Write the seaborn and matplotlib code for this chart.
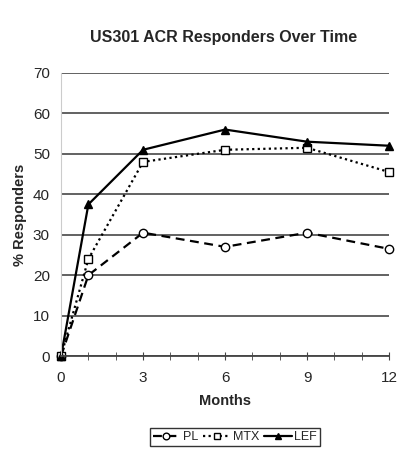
import matplotlib
matplotlib.use("Agg")
import matplotlib.pyplot as plt
import pandas as pd
import seaborn as sns

# Dados
months = [0, 1, 3, 6, 9, 12]
pl = [0, 20, 30.5, 27, 30.5, 26.5]
mtx = [0, 24, 48, 51, 51.5, 45.5]
lef = [0, 37.5, 51, 56, 53, 52]
series_names = ["PL", "MTX", "LEF"]
x_ticks = [0, 3, 6, 9, 12]
y_ticks = [0, 10, 20, 30, 40, 50, 60, 70]

df = pd.DataFrame({
    "Months": months * 3,
    "value": pl + mtx + lef,
    "group": [n for n in series_names for _ in months],
})

sns.set_style("white")
plt.rcParams["font.family"] = ["Liberation Sans Narrow", "Liberation Sans", "DejaVu Sans"]

fig = plt.figure(figsize=(4.07, 4.53), dpi=100)
ax = fig.add_axes([0.15, 0.214, 0.806, 0.625])

styles = {
    "PL": dict(linestyle=(0, (4, 2.5)), marker="o", markerfacecolor="white"),
    "MTX": dict(linestyle=(0, (1, 1.5)), marker="s", markerfacecolor="white"),
    "LEF": dict(linestyle="-", marker="^", markerfacecolor="black"),
}
for name in series_names:
    sub = df[df["group"] == name]
    sns.lineplot(data=sub, x="Months", y="value", ax=ax, color="black",
                 linewidth=1.6, markersize=6, markeredgecolor="black",
                 markeredgewidth=1.0, label=name, clip_on=False, **styles[name])

ax.set_xlim(0, 12)
ax.set_ylim(0, 70)
ax.set_yticks(y_ticks)
ax.set_xticks(x_ticks)
ax.set_xticks(range(0, 13), minor=True)
ax.yaxis.grid(True, color="#555555", linewidth=1.3)
ax.set_axisbelow(True)
for s in ["top", "right"]:
    ax.spines[s].set_visible(False)
ax.spines["left"].set_color("#cccccc")
ax.spines["bottom"].set_color("#444444")
ax.spines["bottom"].set_linewidth(1.3)
ax.tick_params(axis="x", which="both", direction="inout", length=6, color="#444444",
               bottom=True, labelsize=11, pad=8)
ax.tick_params(axis="y", labelsize=11, length=0, pad=8)

ax.set_xlabel("Months", fontsize=10.5, fontweight="bold", labelpad=6)
ax.set_ylabel("% Responders", fontsize=10.5, fontweight="bold", labelpad=4)
fig.text(0.55, 0.918, "US301 ACR Responders Over Time", ha="center", va="center",
         fontsize=11.5, fontweight="bold")

ax.get_legend().remove()
handles, labels = ax.get_legend_handles_labels()
fig.legend(handles, labels, loc="center", bbox_to_anchor=(0.577, 0.035), ncol=3,
           frameon=True, fancybox=False, edgecolor="black", fontsize=9,
           handlelength=2.2, handletextpad=0.2, columnspacing=0.4,
           borderpad=0.25, markerscale=0.8)

fig.savefig("out.png", dpi=100)
